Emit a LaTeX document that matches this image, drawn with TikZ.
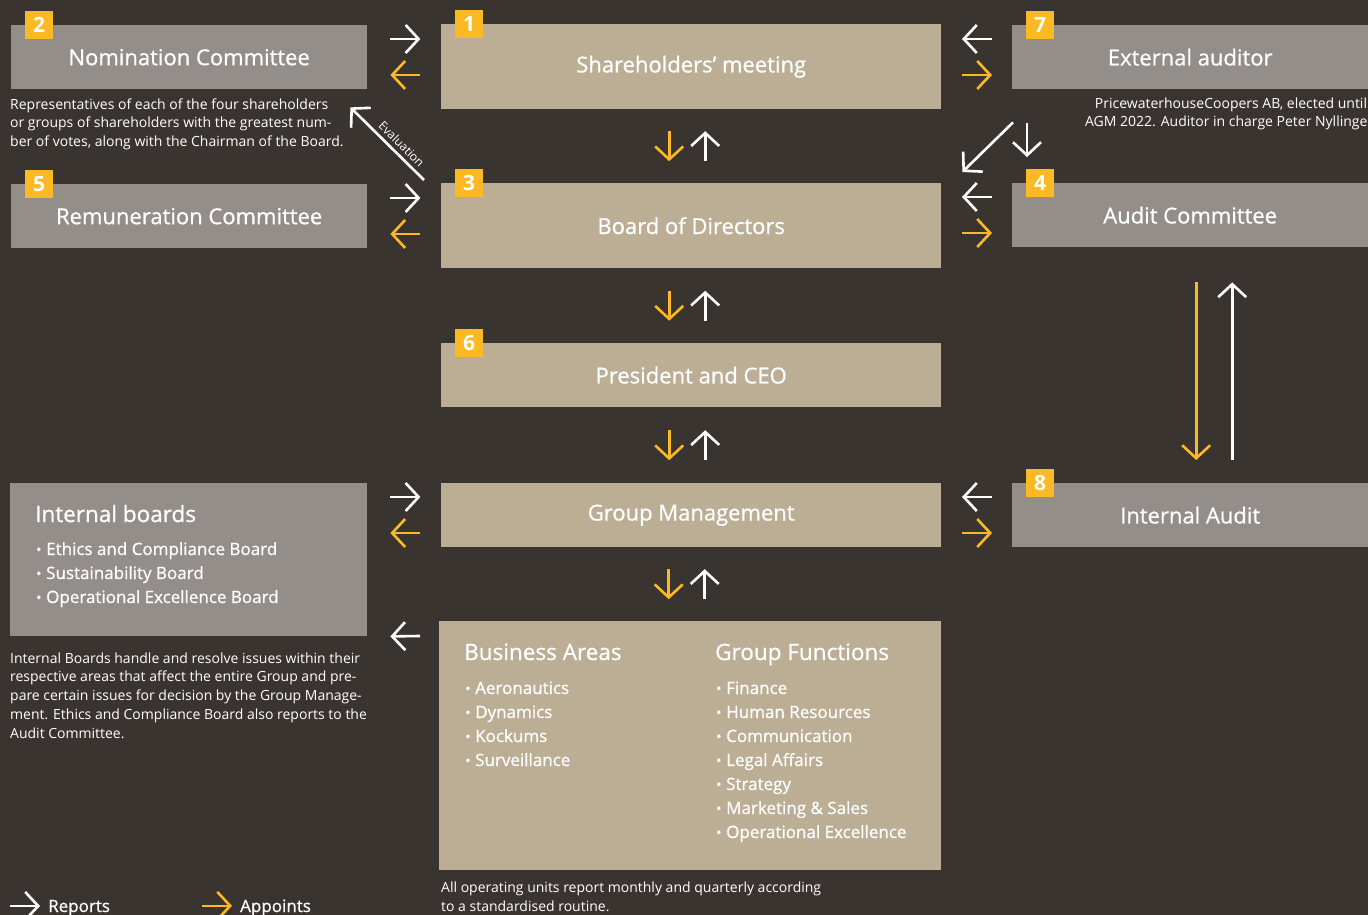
\documentclass[tikz,border=0pt]{standalone}
\usepackage{fontspec}
\setmainfont{Open Sans}
\newfontfamily\medfont{Open Sans}[FakeBold=0.8]
\usepackage{xcolor}
\usepackage{tikz}
\usetikzlibrary{calc,arrows.meta}

\definecolor{sbBg}{RGB}{58,52,49}
\definecolor{sbTan}{RGB}{187,174,148}
\definecolor{sbGrey}{RGB}{147,142,138}
\definecolor{sbYellow}{RGB}{253,185,36}

\newcommand{\itm}[1]{\makebox[10pt][l]{\fontsize{14}{14}\selectfont\raisebox{0.5pt}{•}}#1}

\tikzset{
  govbox/.style={rectangle, inner sep=0pt, text=white, font=\medfont\fontsize{22}{26}\selectfont},
  tanbox/.style={govbox, fill=sbTan, minimum width=500pt},
  greybox/.style={govbox, fill=sbGrey, minimum width=356pt, minimum height=64pt},
  badge/.style={rectangle, fill=sbYellow, minimum size=28pt, inner sep=0pt, text=white, font=\bfseries\fontsize{21}{21}\selectfont},
  note/.style={inner sep=0pt, text=white, align=left, font=\fontsize{14}{18.7}\selectfont},
  listhead/.style={inner sep=0pt, text=white, font=\medfont\fontsize{22.5}{24}\selectfont},
  listitem/.style={inner sep=0pt, text=white, font=\medfont\fontsize{17}{24}\selectfont},
  rep/.style={draw=white, line width=2.6pt, -{Straight Barb[length=13pt,width=28pt]}},
  app/.style={rep, draw=sbYellow},
}

\begin{document}
\begin{tikzpicture}[x=1pt,y=1pt,yscale=-1,xscale=1]
\useasboundingbox (0,0) rectangle (1368,915);
\fill[sbBg] (0,0) rectangle (1368,915);

%Shape: Rectangle -- centre column
\node[tanbox, minimum height=85pt, anchor=north west] (share) at (441,24) {Shareholders’ meeting};
\node[tanbox, minimum height=85pt, anchor=north west] (board) at (441,183) {Board of Directors};
\node[tanbox, minimum height=64pt, anchor=north west] (ceo) at (441,343) {President and CEO};
\node[tanbox, minimum height=64pt, anchor=north west] (gm) at (441,483) {Group Management};
\node[tanbox, minimum width=502pt, minimum height=249pt, anchor=north west] (units) at (439,621) {};
%Shape: Rectangle -- left column
\node[greybox, anchor=north west] (nom) at (11,25) {Nomination Committee};
\node[greybox, anchor=north west] (rem) at (11,184) {Remuneration Committee};
\node[greybox, minimum width=357pt, minimum height=153pt, anchor=north west] (intb) at (10,483) {};
%Shape: Rectangle -- right column
\node[greybox, anchor=north west] (ext) at (1012,25) {External auditor};
\node[greybox, anchor=north west] (audc) at (1012,183) {Audit Committee};
\node[greybox, anchor=north west] (inta) at (1012,483) {Internal Audit};

% Badges
\foreach \nm/\tgt in {1/share,2/nom,3/board,4/audc,5/rem,6/ceo,7/ext,8/inta}
  \node[badge, anchor=north west] (badge\nm) at ($(\tgt.north west)+(14,-14)$) {\nm};

% Text Node -- internal boards
\node[listhead, anchor=base west] (intbhead) at ($(intb.north west)+(25,39)$) {Internal boards};
\foreach \txt [count=\i] in {Ethics and Compliance Board, Sustainability Board, Operational Excellence Board}
  \node[listitem, anchor=base west] (intb\i) at ($(intb.north west)+(26,48+24*\i)$) {\itm{\txt}};

% Text Node -- business areas and group functions
\node[listhead, anchor=base west] (bahead) at ($(units.north west)+(25,39)$) {Business Areas};
\foreach \txt [count=\i] in {Aeronautics, Dynamics, Kockums, Surveillance}
  \node[listitem, anchor=base west] (ba\i) at ($(units.north west)+(26,49+24*\i)$) {\itm{\txt}};
\node[listhead, anchor=base west] (gfhead) at ($(units.north west)+(276,39)$) {Group Functions};
\foreach \txt [count=\i] in {Finance, Human Resources, Communication, Legal Affairs, Strategy, {Marketing \& Sales}, Operational Excellence}
  \node[listitem, anchor=base west] (gf\i) at ($(units.north west)+(277,49+24*\i)$) {\itm{\txt}};

% Text Node -- notes (anchored at the last line)
\node[note, anchor=base west] (nomnote) at (10,146.5) {Representatives of each of the four shareholders\\or groups of shareholders with the greatest num-\\ber of votes, along with the Chairman of the Board.};
\node[note, align=center, anchor=base] (extnote) at (1231,127) {PricewaterhouseCoopers AB, elected until\\AGM 2022. Auditor in charge Peter Nyllinger.};
\node[note, anchor=base west] (intbnote) at (10,738) {Internal Boards handle and resolve issues within their\\respective areas that affect the entire Group and pre-\\pare certain issues for decision by the Group Manage-\\ment. Ethics and Compliance Board also reports to the\\Audit Committee.};
\node[note, anchor=base west] (unitsnote) at (441,911.5) {All operating units report monthly and quarterly according\\to a standardised routine.};

% Connection -- left column
\foreach \side in {nom, rem, intb} {
  \draw[rep] ($(\side.north east)+(23,14)$) -- ++(30,0);
  \draw[app] ($(\side.north east)+(53,50)$) -- ++(-30,0);
}
% Connection -- right column
\foreach \side in {ext, audc, inta} {
  \draw[rep] ($(\side.north west)+(-20,14)$) -- ++(-30,0);
  \draw[app] ($(\side.north west)+(-50,50)$) -- ++(30,0);
}
% Connection -- centre column
\foreach \up/\dn in {share/board, board/ceo, ceo/gm, gm/units} {
  \coordinate (mid) at ($(\up.south)!0.5!(\dn.north)$);
  \draw[app] ($(mid)+(-22,-15)$) -- ++(0,30);
  \draw[rep] ($(mid)+(14,15)$) -- ++(0,-30);
}
% Connection
\draw[rep] ($(board.north west)+(-17,-3)$) -- ($(nom.south east)+(-17,18)$)
  node[pos=0.40, rotate=-45, anchor=south, inner sep=4pt, text=white, font=\fontsize{12}{12}\selectfont] {Evaluation};
\draw[rep] ($(ext.south west)+(1,33)$) -- ($(board.north east)+(21,-11)$);
\draw[rep] ($(ext.south west)+(15,34)$) -- ($(audc.north west)+(15,-26)$);
\draw[app] ($(audc.south)+(6,35)$) -- ($(inta.north)+(6,-23)$);
\draw[rep] ($(inta.north)+(42,-23)$) -- ($(audc.south)+(42,35)$);
\draw[rep] ($(units.north west)+(-19,15)$) -- ($(intb.south east)+(23,0)$);

% Legend
\node[listitem, anchor=base west] (lgrep) at (48,912) {Reports};
\node[listitem, anchor=base west] (lgapp) at (240,912) {Appoints};
\draw[rep] ($(lgrep.west)+(-38,-2)$) -- ++(30,0);
\draw[app] ($(lgapp.west)+(-38,-2)$) -- ++(30,0);

\end{tikzpicture}
\end{document}
